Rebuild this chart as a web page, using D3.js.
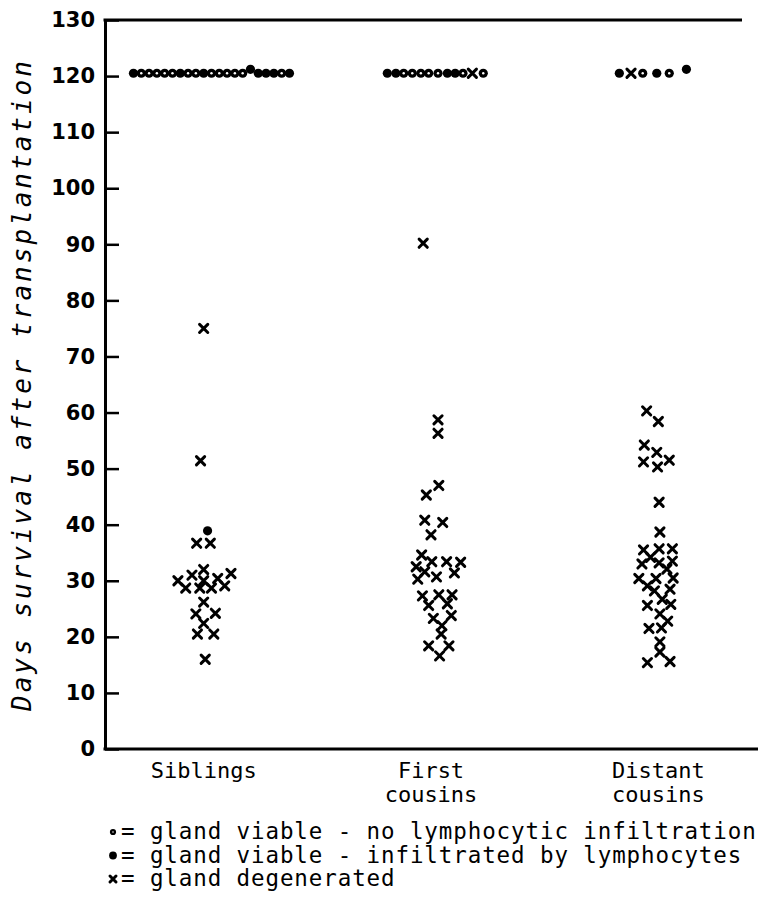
<!DOCTYPE html>
<html>
<head>
<meta charset="utf-8">
<script src="https://cdnjs.cloudflare.com/ajax/libs/d3/7.8.5/d3.min.js"></script>
<style>
	body { margin: 0; background: #fff; }
	.lbl { font-family: "DejaVu Sans Mono", monospace; fill: #000; }
	.tick text { font-family: "DejaVu Sans", sans-serif; font-weight: bold; font-size: 21px; fill: #000; }
</style>
</head>
<body>
<svg id="chart" width="760" height="900"></svg>
<script>
//Categories and axis ticks
var categories = ["Siblings", "First cousins", "Distant cousins"];
var categoryLines = [["Siblings"], ["First", "cousins"], ["Distant", "cousins"]];
var yTickValues = [0, 10, 20, 30, 40, 50, 60, 70, 80, 90, 100, 110, 120, 130];

//Each point: [days, spread (sideways offset in symbol widths), status]
//status: "clear" = viable, no infiltration; "infil" = viable, infiltrated; "degen" = degenerated
var siblings = [
	[120.5, -9, "infil"], [120.5, -8, "clear"], [120.5, -7, "clear"], [120.5, -6, "clear"],
	[120.5, -5, "clear"], [120.5, -4, "clear"], [120.5, -3, "infil"], [120.5, -2, "clear"],
	[120.5, -1, "clear"], [120.5, 0, "infil"], [120.5, 1, "clear"], [120.5, 2, "clear"],
	[120.5, 3, "clear"], [120.5, 4, "clear"], [120.5, 5, "clear"], [121.2, 6, "infil"],
	[120.5, 7, "infil"], [120.5, 8, "infil"], [120.5, 9, "infil"], [120.5, 10, "clear"],
	[120.5, 11, "infil"],
	[75, 0, "degen"], [51.4, -0.4, "degen"], [38.9, 0.5, "infil"],
	[36.7, -0.9, "degen"], [36.7, 0.85, "degen"], [32.0, 0, "degen"], [31.0, -1.5, "degen"],
	[31.3, 3.5, "degen"], [30.0, -3.3, "degen"], [30.0, 0, "degen"], [30.4, 1.8, "degen"],
	[28.7, -2.3, "degen"], [28.7, -0.5, "degen"], [28.7, 1.0, "degen"], [29.1, 2.7, "degen"],
	[26.2, 0, "degen"], [24.1, -1.0, "degen"], [24.2, 1.5, "degen"], [22.4, 0, "degen"],
	[20.5, -0.8, "degen"], [20.5, 1.3, "degen"], [16.0, 0.2, "degen"]
];

var firstCousins = [
	[120.5, -5.6, "infil"], [120.5, -4.5, "infil"], [120.5, -3.5, "clear"], [120.5, -2.4, "clear"],
	[120.5, -1.3, "clear"], [120.5, -0.3, "clear"], [120.5, 0.9, "clear"], [120.5, 2.1, "infil"],
	[120.5, 3.1, "infil"], [120.5, 4.1, "clear"], [120.5, 5.3, "degen"], [120.5, 6.7, "clear"],
	[90.2, -1.0, "degen"], [58.7, 0.9, "degen"], [56.3, 0.9, "degen"], [47.0, 1.0, "degen"],
	[45.3, -0.6, "degen"], [40.8, -0.8, "degen"], [40.4, 1.5, "degen"], [38.2, 0, "degen"],
	[34.6, -1.2, "degen"], [32.5, -1.9, "degen"], [33.4, 0.1, "degen"], [33.4, 2.0, "degen"],
	[33.3, 3.8, "degen"], [31.6, -0.8, "degen"], [30.3, -1.7, "degen"], [30.7, 0.7, "degen"],
	[31.4, 3.0, "degen"], [27.3, -1.1, "degen"], [27.5, 1.0, "degen"], [27.5, 2.7, "degen"],
	[25.6, -0.3, "degen"], [25.9, 2.1, "degen"], [23.3, 0.3, "degen"], [23.8, 2.6, "degen"],
	[22.0, 1.4, "degen"], [20.5, 1.3, "degen"], [18.4, -0.3, "degen"], [18.4, 2.3, "degen"],
	[16.6, 1.1, "degen"]
];

var distantCousins = [
	[120.5, -5.0, "infil"], [120.5, -3.5, "degen"], [120.5, -2.0, "clear"], [120.5, -0.2, "infil"],
	[120.5, 1.4, "clear"], [121.2, 3.6, "infil"],
	[60.3, -1.5, "degen"], [58.4, 0, "degen"], [54.2, -1.8, "degen"], [52.9, -0.2, "degen"],
	[51.2, -1.9, "degen"], [51.5, 1.4, "degen"], [50.3, -0.1, "degen"], [44.0, 0.1, "degen"],
	[38.7, 0.2, "degen"], [35.5, -1.9, "degen"], [35.7, 0.1, "degen"], [35.7, 1.8, "degen"],
	[34.2, -1.0, "degen"], [33.0, -2.1, "degen"], [33.2, 0.1, "degen"], [33.5, 1.8, "degen"],
	[32.1, 1.1, "degen"], [30.4, -2.5, "degen"], [30.4, -0.3, "degen"], [30.5, 1.9, "degen"],
	[29.1, -1.4, "degen"], [28.2, -0.5, "degen"], [28.5, 1.5, "degen"], [26.7, 0.5, "degen"],
	[25.6, -1.4, "degen"], [25.8, 1.6, "degen"], [24.1, 0.2, "degen"], [22.8, 1.2, "degen"],
	[21.5, -1.2, "degen"], [21.6, 0.4, "degen"], [19.1, 0.2, "degen"], [17.3, 0.2, "degen"],
	[15.4, -1.4, "degen"], [15.6, 1.5, "degen"]
];

var legendItems = [
	["clear", "= gland viable - no lymphocytic infiltration"],
	["infil", "= gland viable - infiltrated by lymphocytes"],
	["degen", "= gland degenerated"]
];

var chart = {
	width: 760,
	height: 900,
	margin: {top: 20, right: 2, bottom: 151, left: 105},
	init: function(){
		var self = this;
		self.svg = d3.select("#chart");

		//Scales
		self.y = d3.scaleLinear().domain([0, 130]).range([self.height - self.margin.bottom, self.margin.top]);
		self.x = d3.scalePoint().domain(categories).range([90, 772]).padding(0.5);
		self.spread = d3.scaleLinear().domain([0, 1]).range([0, 7.8]);

		self.drawAxes();
		self.drawPoints();
		self.drawLegend();
	},
	drawAxes: function(){
		var self = this, left = self.margin.left;

		var yAxis = self.svg.append("g")
			.attr("transform", "translate(" + left + ",0)")
			.call(d3.axisLeft(self.y).tickValues(yTickValues).tickSizeInner(-14).tickSizeOuter(0).tickPadding(10));
		yAxis.select(".domain").attr("stroke", "#000").attr("stroke-width", 3);
		yAxis.selectAll(".tick line").attr("stroke", "#000").attr("stroke-width", 2.5);

		//Top and bottom frame lines
		self.svg.append("line")
			.attr("x1", left - 1.5).attr("x2", 742)
			.attr("y1", self.y(130)).attr("y2", self.y(130))
			.attr("stroke", "#000").attr("stroke-width", 3);
		self.svg.append("line")
			.attr("x1", left - 1.5).attr("x2", 758)
			.attr("y1", self.y(0)).attr("y2", self.y(0))
			.attr("stroke", "#000").attr("stroke-width", 3);

		//Y title
		self.svg.append("text")
			.attr("class", "lbl")
			.attr("text-anchor", "middle")
			.attr("transform", "translate(31," + ((self.y(0) + self.y(130)) / 2) + ") rotate(-90)")
			.style("font-size", "26px")
			.style("font-style", "italic")
			.style("letter-spacing", "3px")
			.text("Days survival after transplantation");

		//Category labels
		categories.forEach(function(cat, i){
			var t = self.svg.append("text")
				.attr("class", "lbl")
				.attr("text-anchor", "middle")
				.attr("transform", "translate(" + self.x(cat) + "," + (self.y(0) + 29) + ")")
				.style("font-size", "22px");
			categoryLines[i].forEach(function(line, j){
				t.append("tspan").attr("x", 0).attr("dy", j === 0 ? 0 : "1.1em").text(line);
			});
		});
	},
	drawSymbol: function(g, status, r){
		if (status === "degen"){
			g.append("path")
				.attr("d", "M" + (-r) + "," + (-r) + "L" + r + "," + r + "M" + r + "," + (-r) + "L" + (-r) + "," + r)
				.attr("stroke", "#000").attr("stroke-width", 3).attr("stroke-linecap", "round");
		}else{
			g.append("circle").attr("r", r + 0.5).attr("fill", "#000");
			if (status === "clear") g.append("circle").attr("r", r * 0.3).attr("fill", "#fff");
		}
	},
	drawPoints: function(){
		var self = this, groups = [siblings, firstCousins, distantCousins];
		var layer = self.svg.append("g");

		groups.forEach(function(points, i){
			var cat = categories[i];
			points.forEach(function(p){
				var g = layer.append("g")
					.attr("transform", "translate(" + (self.x(cat) + self.spread(p[1])) + "," + self.y(p[0]) + ")");
				self.drawSymbol(g, p[2], 4.1);
			});
		});
	},
	drawLegend: function(){
		var self = this, top = 832, step = 23.5;

		legendItems.forEach(function(item, i){
			var cy = top + i * step;
			var g = self.svg.append("g").attr("transform", "translate(113," + cy + ")");
			self.drawSymbol(g, item[0], item[0] === "degen" ? 3 : (item[0] === "clear" ? 2.6 : 3.4));

			self.svg.append("text")
				.attr("class", "lbl")
				.attr("x", 121)
				.attr("y", cy + 7)
				.style("font-size", "22.5px")
				.style("letter-spacing", "0.9px")
				.text(item[1]);
		});
	}
};

chart.init();
</script>
</body>
</html>
